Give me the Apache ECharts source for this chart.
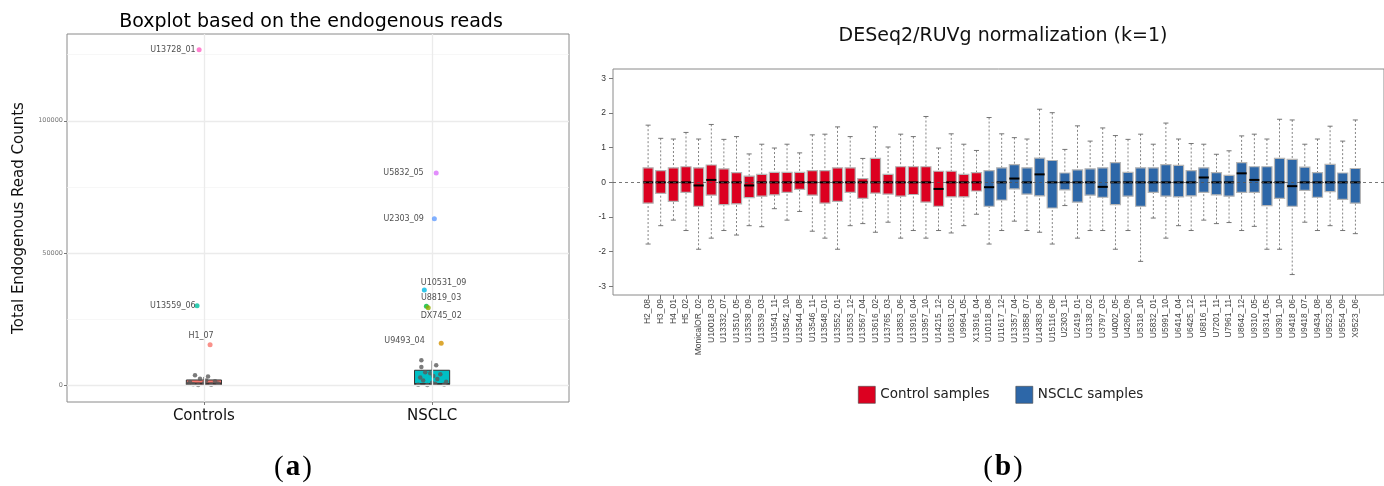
<!DOCTYPE html>
<html><head><meta charset="utf-8">
<script src="https://cdn.jsdelivr.net/npm/echarts@6/dist/echarts.min.js"></script>
<style>html,body{margin:0;padding:0;background:#fff}#c{width:1384px;height:486px}</style>
</head><body><div id="c"></div>
<script>
// ================= Panel (a) data =================
const groupNames = ['Controls', 'NSCLC'];
const groupPos = [1, 2];
const countTicks = [0, 50000, 100000];
const countMinorLines = [25000, 75000, 125000];
const boxLow = [0, 0];
const boxQ1 = [150, 300];
const boxMedian = [700, 500];
const boxQ3 = [2000, 5680];
const boxHigh = [3150, 9300];
const labeledNames = ['U13728_01', 'U13559_06', 'H1_07', 'U5832_05', 'U2303_09', 'U10531_09', 'U8819_03', 'DX745_02', 'U9493_04'];
const labeledX = [0.979, 0.970, 1.027, 2.018, 2.010, 1.966, 1.975, 1.983, 2.040];
const labeledCounts = [126900, 30100, 15300, 80300, 63000, 36000, 29900, 29300, 15900];
const jitterX = [0.961, 1.018, 0.983, 0.939, 0.953, 0.975, 1.001, 1.032, 1.049, 0.931, 1.010, 1.062,
                 1.953, 1.953, 2.018, 1.970, 1.992, 2.036, 2.023, 1.961, 2.000, 2.053, 1.939, 2.014, 1.979, 2.062, 1.948, 2.005];
const jitterCounts = [3800, 3300, 2500, 1200, 400, 150, 900, 200, 1500, 600, 1800, 700,
                      9500, 6900, 7600, 4900, 4500, 4200, 2400, 1800, 1000, 300, 200, 600, 100, 1300, 2900, 3500];

// ================= Panel (b) data =================
const sampleNames = ['H2_08','H3_09','H4_01','H5_02','MonicalOR_02','U10018_03','U13332_07','U13510_05','U13538_09','U13539_03',
  'U13541_11','U13542_10','U13544_08','U13546_11','U13548_01','U13552_01','U13553_12','U13567_04','U13616_02','U13765_03',
  'U13853_06','U13916_04','U13957_10','U14215_12','U16631_02','U9964_05','X13916_04',
  'U10118_08','U11617_12','U13357_04','U13858_07','U14383_06','U15116_08','U2303_11','U2419_01','U3138_02','U3797_03',
  'U4002_05','U4260_09','U5318_10','U5832_01','U5991_10','U6414_04','U6425_12','U6816_11','U7201_11','U7961_11',
  'U8642_12','U9310_05','U9314_05','U9391_10','U9418_06','U9418_07','U9434_08','U9523_06','U9554_09','X9523_06'];
const sampleGroup = ['C','C','C','C','C','C','C','C','C','C','C','C','C','C','C','C','C','C','C','C','C','C','C','C','C','C','C',
  'N','N','N','N','N','N','N','N','N','N','N','N','N','N','N','N','N','N','N','N','N','N','N','N','N','N','N','N','N','N'];
const whiskerLow = [-1.78,-1.25,-1.09,-1.39,-1.93,-1.61,-1.39,-1.52,-1.25,-1.28,
  -0.76,-1.09,-0.84,-1.41,-1.61,-1.93,-1.25,-1.19,-1.44,-1.15,
  -1.61,-1.39,-1.61,-1.39,-1.46,-1.25,-0.92,
  -1.78,-1.39,-1.12,-1.39,-1.44,-1.78,-0.67,-1.61,-1.39,-1.39,
  -1.93,-1.39,-2.28,-1.03,-1.61,-1.25,-1.39,-1.09,-1.19,-1.16,
  -1.39,-1.27,-1.93,-1.93,-2.66,-1.15,-1.39,-1.25,-1.39,-1.48];
const quart1 = [-0.60,-0.32,-0.55,-0.29,-0.69,-0.37,-0.64,-0.62,-0.44,-0.40,
  -0.36,-0.29,-0.20,-0.37,-0.60,-0.55,-0.29,-0.46,-0.31,-0.34,
  -0.40,-0.35,-0.57,-0.69,-0.42,-0.42,-0.25,
  -0.69,-0.51,-0.19,-0.34,-0.39,-0.74,-0.22,-0.57,-0.37,-0.43,
  -0.64,-0.40,-0.69,-0.29,-0.40,-0.42,-0.39,-0.29,-0.36,-0.40,
  -0.29,-0.29,-0.67,-0.46,-0.69,-0.23,-0.43,-0.27,-0.49,-0.60];
const medians = [0,0,0,0,-0.09,0.07,0,0,-0.09,0,
  0,0,0,0,0,0,0,0,0,0,
  0,0,0,-0.19,0,0,0,
  -0.14,0,0.11,0,0.23,0,0,0,0,-0.13,
  0,0,0,0,0,0,0,0.14,0,0,
  0.26,0.07,0,0,-0.11,0,0,0,0,0];
const quart3 = [0.42,0.34,0.42,0.45,0.42,0.50,0.39,0.28,0.18,0.23,
  0.29,0.29,0.29,0.34,0.34,0.42,0.42,0.11,0.69,0.23,
  0.45,0.45,0.45,0.32,0.32,0.23,0.28,
  0.34,0.42,0.51,0.42,0.70,0.63,0.27,0.36,0.39,0.42,
  0.57,0.29,0.42,0.42,0.51,0.49,0.34,0.42,0.28,0.20,
  0.57,0.45,0.45,0.69,0.66,0.44,0.28,0.52,0.27,0.40];
const whiskerHigh = [1.65,1.27,1.25,1.44,1.25,1.67,1.24,1.32,0.82,1.10,
  0.99,1.10,0.85,1.37,1.39,1.60,1.32,0.69,1.60,1.02,
  1.39,1.32,1.90,0.99,1.40,1.10,0.92,
  1.87,1.40,1.29,1.25,2.11,2.01,0.95,1.63,1.19,1.57,
  1.35,1.24,1.39,1.10,1.71,1.25,1.12,1.10,0.81,0.91,
  1.34,1.39,1.25,1.82,1.80,1.10,1.25,1.62,1.19,1.80];
const normTicks = [-3, -2, -1, 0, 1, 2, 3];

// ================= styles =================
const HUE = {'U13728_01':'#FF61C3','U13559_06':'#00C19F','H1_07':'#F8766D','U5832_05':'#DB72FB','U2303_09':'#619CFF',
  'U10531_09':'#00B9E3','U8819_03':'#00BA38','DX745_02':'#93AA00','U9493_04':'#D39200'};
const LABEL_STYLE = {
  'U13728_01': {position:'left', distance:1},
  'U13559_06': {position:'left', distance:-1},
  'H1_07': {position:'top', distance:2, offset:[-9,0]},
  'U5832_05': {position:'left', distance:10},
  'U2303_09': {position:'left', distance:8},
  'U10531_09': {position:'right', distance:5, offset:[-11,-7]},
  'U8819_03': {position:'right', distance:5, offset:[-13,-8]},
  'DX745_02': {position:'right', distance:5, offset:[-15,8]},
  'U9493_04': {position:'left', distance:14, offset:[0,-2]}
};
const BOX_FILL_A = ['#F8766D', '#00BFC4'];
const RED = '#DC0020', BLUE = '#2D67A8';
const SANS = 'DejaVu Sans';

const chart = echarts.init(document.getElementById('c'), null, {renderer: 'canvas'});

function renderLeftBox(params, api) {
  const x = api.value(0);
  const hw = 0.077;
  const top = api.coord([x, api.value(5)]), bot = api.coord([x, api.value(1)]);
  const a = api.coord([x - hw, api.value(4)]), b = api.coord([x + hw, api.value(2)]);
  const m = api.coord([x, api.value(3)]);
  return {type: 'group', children: [
    {type: 'line', shape: {x1: top[0], y1: top[1], x2: top[0], y2: a[1]}, style: {stroke: '#333', lineWidth: 1}},
    {type: 'line', shape: {x1: bot[0], y1: bot[1], x2: bot[0], y2: b[1]}, style: {stroke: '#333', lineWidth: 1}},
    {type: 'rect', shape: {x: a[0], y: a[1], width: b[0] - a[0], height: b[1] - a[1]}, style: {fill: api.visual('color'), stroke: '#333', lineWidth: 1}},
    {type: 'line', shape: {x1: a[0], y1: m[1], x2: b[0], y2: m[1]}, style: {stroke: '#333', lineWidth: 2}}
  ]};
}
function renderRightBox(params, api) {
  const x = api.value(0);
  const hw = 0.4, cw = 0.2;
  const hi = api.coord([x, api.value(5)]), lo = api.coord([x, api.value(1)]);
  const q3 = api.coord([x - hw, api.value(4)]), q1 = api.coord([x + hw, api.value(2)]);
  const m = api.coord([x, api.value(3)]);
  const cl = api.coord([x - cw, 0])[0], cr = api.coord([x + cw, 0])[0];
  const dash = {stroke: '#666', lineWidth: 0.8, lineDash: [2, 2]};
  const solid = {stroke: '#666', lineWidth: 0.9};
  return {type: 'group', children: [
    {type: 'line', shape: {x1: hi[0], y1: hi[1], x2: hi[0], y2: q3[1]}, style: dash},
    {type: 'line', shape: {x1: lo[0], y1: lo[1], x2: lo[0], y2: q1[1]}, style: dash},
    {type: 'line', shape: {x1: cl, y1: hi[1], x2: cr, y2: hi[1]}, style: solid},
    {type: 'line', shape: {x1: cl, y1: lo[1], x2: cr, y2: lo[1]}, style: solid},
    {type: 'rect', shape: {x: q3[0], y: q3[1], width: q1[0] - q3[0], height: q1[1] - q3[1]}, style: {fill: api.visual('color'), stroke: '#B5B5B5', lineWidth: 1.2}},
    {type: 'line', shape: {x1: q3[0], y1: m[1], x2: q1[0], y2: m[1]}, style: {stroke: '#000', lineWidth: 2}}
  ]};
}

const leftBoxData = groupNames.map((g, i) => ({
  value: [groupPos[i], boxLow[i], boxQ1[i], boxMedian[i], boxQ3[i], boxHigh[i]],
  itemStyle: {color: BOX_FILL_A[i]}
}));
const jitterData = jitterX.map((x, i) => [x, jitterCounts[i]]);
const labeledData = labeledNames.map((n, i) => {
  const ls = LABEL_STYLE[n];
  return {name: n, value: [labeledX[i], labeledCounts[i]], itemStyle: {color: HUE[n]},
    label: Object.assign({show: true, formatter: n, fontFamily: SANS, fontSize: 8, color: '#222'}, ls)};
});
function rowsFor(g) {
  const out = [];
  sampleNames.forEach((n, i) => {
    if (sampleGroup[i] === g) out.push([i + 1, whiskerLow[i], quart1[i], medians[i], quart3[i], whiskerHigh[i]]);
  });
  return out;
}
const idxTicks = sampleNames.map((n, i) => i + 1);

const option = {
  animation: false,
  backgroundColor: '#fff',
  textStyle: {fontFamily: SANS},
  graphic: [
    {type: 'text', x: 311, y: 22, style: {text: 'Boxplot based on the endogenous reads', font: '19px "DejaVu Sans"', fill: '#000', textAlign: 'center', textVerticalAlign: 'middle'}},
    {type: 'text', x: 1003, y: 36, style: {text: 'DESeq2/RUVg normalization (k=1)', font: '19px "DejaVu Sans"', fill: '#111', textAlign: 'center', textVerticalAlign: 'middle'}},
    {type: 'text', x: 293, y: 468, style: {text: '{p|(}{b|a}{p|)}', textAlign: 'center', textVerticalAlign: 'middle',
      rich: {p: {fontFamily: 'Liberation Serif', fontSize: 29, fill: '#000'}, b: {fontFamily: 'Liberation Serif', fontSize: 29, fontWeight: 'bold', fill: '#000', padding: [0, 2]}}}},
    {type: 'text', x: 1003, y: 468, style: {text: '{p|(}{b|b}{p|)}', textAlign: 'center', textVerticalAlign: 'middle',
      rich: {p: {fontFamily: 'Liberation Serif', fontSize: 29, fill: '#000'}, b: {fontFamily: 'Liberation Serif', fontSize: 29, fontWeight: 'bold', fill: '#000', padding: [0, 2]}}}}
  ],
  legend: {
    data: ['Control samples', 'NSCLC samples'],
    left: 853, top: 381, icon: 'rect', itemWidth: 17, itemHeight: 17, itemGap: 26,
    textStyle: {fontFamily: SANS, fontSize: 13.5, color: '#222'},
    itemStyle: {borderColor: '#444', borderWidth: 0.6}
  },
  grid: [
    {left: 67, top: 34, width: 502, height: 368, show: true, borderColor: '#8a8a8a', borderWidth: 1, backgroundColor: '#fff'},
    {left: 613, top: 69, right: 0, height: 226, show: true, borderColor: '#8a8a8a', borderWidth: 1, backgroundColor: '#fff'}
  ],
  xAxis: [
    {type: 'value', gridIndex: 0, min: 0.4, max: 2.6,
      axisLine: {show: false, onZero: false},
      axisTick: {show: true, customValues: groupPos, length: 3, lineStyle: {color: '#777'}},
      axisLabel: {customValues: groupPos, formatter: v => groupNames[groupPos.indexOf(v)], fontFamily: SANS, fontSize: 15, color: '#111', margin: 7},
      splitLine: {show: false}},
    {type: 'value', gridIndex: 1, min: -1.78, max: 59.27,
      axisLine: {show: false, onZero: false},
      axisTick: {show: true, customValues: idxTicks, length: 4, lineStyle: {color: '#777'}},
      axisLabel: {customValues: idxTicks, formatter: v => sampleNames[v - 1], rotate: 90, fontFamily: 'Liberation Sans', fontSize: 8.5, color: '#444', margin: 4},
      splitLine: {show: false}}
  ],
  yAxis: [
    {type: 'value', gridIndex: 0, min: -6325, max: 132825,
      name: 'Total Endogenous Read Counts', nameLocation: 'middle', nameGap: 40,
      nameTextStyle: {fontFamily: SANS, fontSize: 15, color: '#111'},
      axisLine: {show: false, onZero: false},
      axisTick: {show: true, customValues: countTicks, length: 3, lineStyle: {color: '#777'}},
      axisLabel: {customValues: countTicks, formatter: v => String(v), fontFamily: SANS, fontSize: 6.5, color: '#777', margin: 4},
      splitLine: {show: false}},
    {type: 'value', gridIndex: 1, min: -3.25, max: 3.27,
      axisLine: {show: false, onZero: false},
      axisTick: {show: true, customValues: normTicks, length: 4, lineStyle: {color: '#777'}},
      axisLabel: {customValues: normTicks, formatter: v => String(v), fontFamily: 'Liberation Sans', fontSize: 8.5, color: '#333', margin: 7},
      splitLine: {show: false}}
  ],
  series: [
    // panel (a) grid lines
    {type: 'line', xAxisIndex: 0, yAxisIndex: 0, data: [], silent: true, z: 1,
      markLine: {silent: true, symbol: 'none', label: {show: false}, animation: false,
        data: countMinorLines.map(v => ({yAxis: v, lineStyle: {color: '#F3F3F3', width: 0.7, type: 'solid'}}))
          .concat(countTicks.map(v => ({yAxis: v, lineStyle: {color: '#EBEBEB', width: 1.3, type: 'solid'}})))
          .concat(groupPos.map(v => ({xAxis: v, lineStyle: {color: '#EBEBEB', width: 1.3, type: 'solid'}})))}},
    {type: 'custom', xAxisIndex: 0, yAxisIndex: 0, renderItem: renderLeftBox, data: leftBoxData, z: 3},
    {type: 'scatter', xAxisIndex: 0, yAxisIndex: 0, data: jitterData, symbolSize: 4.5, itemStyle: {color: '#5A5A5A', opacity: 0.8}, z: 4},
    {type: 'scatter', xAxisIndex: 0, yAxisIndex: 0, data: labeledData, symbolSize: 5, z: 5},
    // panel (b)
    {type: 'line', xAxisIndex: 1, yAxisIndex: 1, data: [], silent: true, z: 1,
      markLine: {silent: true, symbol: 'none', label: {show: false}, animation: false,
        data: [{yAxis: 0, lineStyle: {color: '#555', width: 0.8, type: [3, 3]}}]}},
    {type: 'custom', name: 'Control samples', xAxisIndex: 1, yAxisIndex: 1, renderItem: renderRightBox, data: rowsFor('C'), itemStyle: {color: RED}, z: 3},
    {type: 'custom', name: 'NSCLC samples', xAxisIndex: 1, yAxisIndex: 1, renderItem: renderRightBox, data: rowsFor('N'), itemStyle: {color: BLUE}, z: 3}
  ]
};
chart.setOption(option);
</script>
</body></html>
